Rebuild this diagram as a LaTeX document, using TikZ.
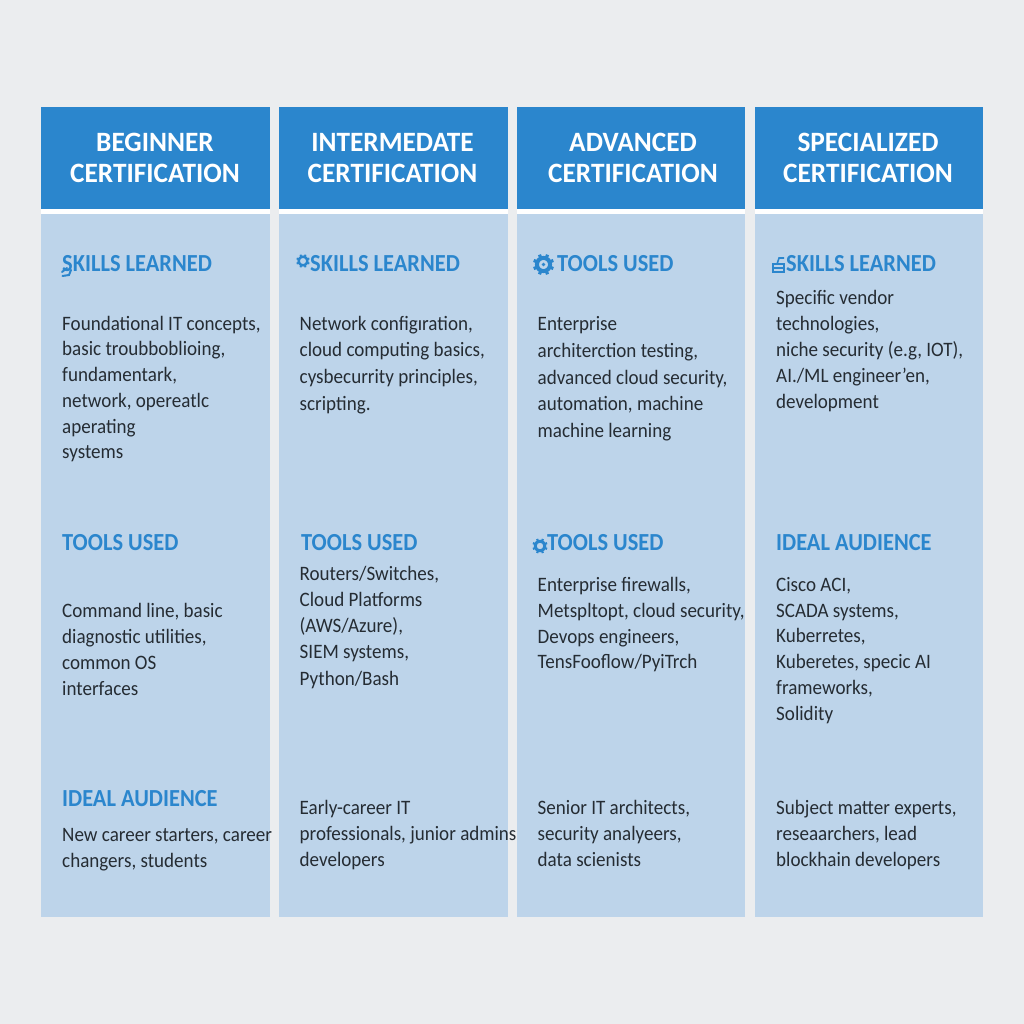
\documentclass[tikz,border=0pt]{standalone}
\usepackage{fontspec}
\setmainfont{Carlito}
\newfontfamily\bodyfam[FakeStretch=0.93]{Carlito}
\newfontfamily\sectfam[FakeStretch=0.915]{Carlito}
\newfontfamily\headfam[FakeStretch=0.975]{Carlito}
\definecolor{pagebg}{HTML}{EBEDEF}
\definecolor{headblue}{HTML}{2B86CD}
\definecolor{bodyblue}{HTML}{BDD4EA}
\definecolor{inktext}{HTML}{252C33}
\tikzset{
  headbox/.style={fill=headblue,draw=none,inner sep=0pt,minimum width=228.5pt,minimum height=102pt},
  bodybox/.style={fill=bodyblue,draw=none,inner sep=0pt,minimum width=228.5pt,minimum height=703pt},
  headtext/.style={text=white,font=\headfam\fontsize{28}{31.5}\selectfont\bfseries,align=center,inner sep=0pt,anchor=north},
  sectiontext/.style={text=headblue,font=\sectfam\fontsize{24.5}{26}\selectfont\bfseries,inner sep=0pt,anchor=base west},
  bodytext/.style={text=inktext,font=\bodyfam\fontsize{20.5}{#1}\selectfont,align=left,inner sep=0pt,anchor=north west},
}
\newcommand{\headlabel}[4]{\node[headtext] (#1) at (#2,{#3-22.05}) {\strut #4};}
\newcommand{\sectlabel}[4]{\node[sectiontext] (#1) at (#2,#3) {#4};}
\newcommand{\para}[5][26.2]{\node[bodytext=#1] (#2) at (#3,{#4-0.7*#1}) {\strut #5};}
\newcommand{\gearicon}[5]{%
  \draw[#5,line width=#4pt] (#1,#2) circle (#3);
  \foreach \a in {22.5,67.5,...,337.5}{
    \draw[#5,line width=0.8*#4pt] ({#1+#3*cos(\a)},{#2+#3*sin(\a)}) -- ({#1+(#3+#4)*cos(\a)},{#2+(#3+#4)*sin(\a)});
  }%
}
\begin{document}
\begin{tikzpicture}[x=1pt,y=-1pt]
\useasboundingbox (0,0) rectangle (1024,1024);
\fill[pagebg] (0,0) rectangle (1024,1024);

% columns
\node[bodybox] (bodyA) at (155.25,565.5) {};
\node[bodybox] (bodyB) at (393.25,565.5) {};
\node[bodybox] (bodyC) at (630.75,565.5) {};
\node[bodybox] (bodyD) at (868.75,565.5) {};
\fill[white] (41,209) rectangle (269.5,214.5);
\fill[white] (279,209) rectangle (507.5,214.5);
\fill[white] (516.5,209) rectangle (745,214.5);
\fill[white] (754.5,209) rectangle (983,214.5);
\node[headbox] (headA) at (155.25,158) {};
\node[headbox] (headB) at (393.25,158) {};
\node[headbox] (headC) at (630.75,158) {};
\node[headbox] (headD) at (868.75,158) {};

% headers
\headlabel{titleA}{155}{151}{BEGINNER\\CERTIFICATION}
\headlabel{titleB}{392.5}{151}{INTERMEDATE\\CERTIFICATION}
\headlabel{titleC}{633}{151}{ADVANCED\\CERTIFICATION}
\headlabel{titleD}{868}{151}{SPECIALIZED\\CERTIFICATION}

% icons
\draw[headblue,line width=2pt,line cap=round] (62,272) -- (67,268) (62.5,276) -- (69,275) -- (71,270);
\gearicon{303}{261}{4.4}{2.4}{headblue}
\gearicon{543.5}{264.5}{6.6}{4}{headblue}
\fill[headblue] (543.5,264.5) circle (1.8);
\gearicon{540}{546}{4.8}{2.8}{headblue}
\draw[headblue,line width=1.6pt] (773,272) -- (773,264) -- (784,264) -- (784,272) -- cycle (773,268) -- (784,268) (777,264) -- (779,258) -- (784,258);

% section labels, row 1
\sectlabel{skillsA}{62}{271}{SKILLS LEARNED}
\sectlabel{skillsB}{310}{271}{SKILLS LEARNED}
\sectlabel{toolsC}{557}{271}{TOOLS USED}
\sectlabel{skillsD}{786}{271}{SKILLS LEARNED}

% section labels, row 2
\sectlabel{toolsA}{62}{550}{TOOLS USED}
\sectlabel{toolsB}{301}{550}{TOOLS USED}
\sectlabel{toolsCb}{547}{550}{TOOLS USED}
\sectlabel{audienceD}{776}{550}{IDEAL AUDIENCE}

% section labels, row 3
\sectlabel{audienceA}{62}{806}{IDEAL AUDIENCE}

% paragraphs, row 1
\para[25.7]{textA1}{62}{330}{Foundational IT concepts,\\basic troubboblioing,\\fundamentark,\\network, opereatlc\\aperating\\systems}
\para[26.6]{textB1}{299.5}{330}{Network configıration,\\cloud computing basics,\\cysbecurrity principles,\\scripting.}
\para[26.7]{textC1}{537.5}{330.5}{Enterprise\\architerction testing,\\advanced cloud security,\\automation, machine\\machine learning}
\para[26]{textD1}{776}{304}{Specific vendor\\technologies,\\niche security (e.g, IOT),\\AI./ML engineer’en,\\development}

% paragraphs, row 2
\para[26.2]{textA2}{62}{617}{Command line, basic\\diagnostic utilities,\\common OS\\interfaces}
\para[26.2]{textB2}{299.5}{580}{Routers/Switches,\\Cloud Platforms\\(AWS/Azure),\\SIEM systems,\\Python/Bash}
\para[25.9]{textC2}{537.5}{591}{Enterprise firewalls,\\Metspltopt, cloud security,\\Devops engineers,\\TensFooflow/PyiTrch}
\para[25.8]{textD2}{776}{591}{Cisco ACI,\\SCADA systems,\\Kuberretes,\\Kuberetes, specic AI\\frameworks,\\Solidity}

% paragraphs, row 3
\para[26]{textA3}{62}{841}{New career starters, career\\changers, students}
\para[26.3]{textB3}{299.5}{814}{Early-career IT\\professionals, junior admins\\developers}
\para[26.3]{textC3}{537.5}{814}{Senior IT architects,\\security analyeers,\\data scienists}
\para[26.3]{textD3}{776}{814}{Subject matter experts,\\reseaarchers, lead\\blockhain developers}
\end{tikzpicture}
\end{document}
